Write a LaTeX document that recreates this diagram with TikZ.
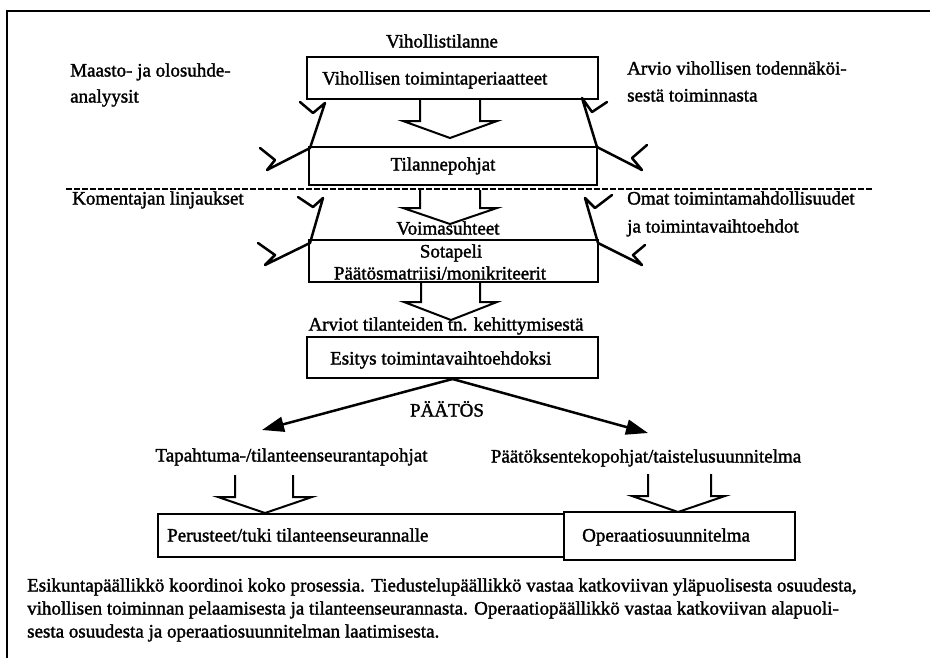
\documentclass[tikz,border=0pt]{standalone}
\usepackage{fontspec}
\setmainfont{Liberation Serif}
\newfontfamily\heavyserif{Liberation Serif}[FakeBold=1.6]
\usetikzlibrary{arrows.meta}
\newcommand\openblockarrow[8]{%
  \draw[arrowline] (#1,#3) -- (#1,#4) -- (#5,#4) -- (#7,#8) -- (#6,#4) -- (#2,#4) -- (#2,#3);}
\begin{document}
\begin{tikzpicture}[x=1pt,y=-1pt,
  txt/.style={font=\heavyserif\fontsize{19}{22}\selectfont, inner sep=0pt, text height=13pt, text depth=4pt},
  boxnode/.style={draw, line width=2pt, inner sep=0pt},
  arrowline/.style={line width=2pt, line join=miter},
  zigzag/.style={line width=2.5pt, line join=round, line cap=round},
  decision/.style={line width=2.5pt, -{Triangle[length=22pt,width=15pt]}}]
\useasboundingbox (0,0) rectangle (930,657);
% frame (clipped on right and bottom in the reference)
\draw[line width=2pt] (7,665) -- (7,11) -- (935,11);
% boxes
\node[boxnode, minimum width=291pt, minimum height=42pt] (vtp) at (452.5,78) {};
\node[boxnode, minimum width=288pt, minimum height=38pt] (tp) at (453,166) {};
\node[boxnode, minimum width=289pt, minimum height=42pt] (sp) at (453.5,261) {};
\node[boxnode, minimum width=291pt, minimum height=41pt] (esitys) at (452.5,357.5) {};
\node[boxnode, minimum width=406pt, minimum height=43pt] (perus) at (361,535.5) {};
\node[boxnode, minimum width=231pt, minimum height=48pt] (oper) at (679.5,536) {};
% dashed separator
\coordinate (dl) at (66,189);
\coordinate (dr) at (873,189);
\draw[line width=1.6pt, dash pattern=on 6pt off 2pt] (dl) -- (dr);
% texts
\node[txt] (vt) at (442,43) {Vihollistilanne};
\node[txt, anchor=west] (vtpt) at (322,80) {Vihollisen toimintaperiaatteet};
\node[txt] (tpt) at (443,166) {Tilannepohjat};
\node[txt] (vs) at (448,230) {Voimasuhteet};
\node[txt] (spt) at (451,253) {Sotapeli};
\node[txt] (pm) at (440,275) {Päätösmatriisi/monikriteerit};
\node[txt] (arv) at (446,326) {Arviot tilanteiden tn. kehittymisestä};
\node[txt, anchor=west] (est) at (330,360) {Esitys toimintavaihtoehdoksi};
\node[txt] (paatos) at (447,412) {PÄÄTÖS};
\node[txt] (tap) at (291.5,457) {Tapahtuma-/tilanteenseurantapohjat};
\node[txt] (ptk) at (646,458) {Päätöksentekopohjat/taistelusuunnitelma};
\node[txt, anchor=west] (pert) at (167,537) {Perusteet/tuki tilanteenseurannalle};
\node[txt, anchor=west] (opt) at (582,537) {Operaatiosuunnitelma};
\node[txt, anchor=west] (m1) at (70,72) {Maasto- ja olosuhde-};
\node[txt, anchor=west] (m2) at (70,98) {analyysit};
\node[txt, anchor=west] (k1) at (72,200) {Komentajan linjaukset};
\node[txt, anchor=west] (a1) at (627,70) {Arvio vihollisen todennäköi-};
\node[txt, anchor=west] (a2) at (627,97) {sestä toiminnasta};
\node[txt, anchor=west] (o1) at (627,200) {Omat toimintamahdollisuudet};
\node[txt, anchor=west] (o2) at (627,228) {ja toimintavaihtoehdot};
\node[txt, anchor=west] (p1) at (27,587) {Esikuntapäällikkö koordinoi koko prosessia. Tiedustelupäällikkö vastaa katkoviivan yläpuolisesta osuudesta,};
\node[txt, anchor=west] (p2) at (27,610) {vihollisen toiminnan pelaamisesta ja tilanteenseurannasta. Operaatiopäällikkö vastaa katkoviivan alapuoli-};
\node[txt, anchor=west] (p3) at (27,633) {sesta osuudesta ja operaatiosuunnitelman laatimisesta.};
% hollow block arrows
\openblockarrow{420}{480}{100}{121}{403}{497}{450}{138}
\openblockarrow{420}{480}{190}{208}{403}{497}{450}{224}
\openblockarrow{421}{480}{283}{302}{404}{497}{451}{320}
\openblockarrow{235}{293}{475}{497}{218}{312}{265}{513}
\openblockarrow{648}{711}{474}{496}{632}{725}{678}{512}
% side zigzag arrows
\draw[zigzag] (300,102) -- (313,113) -- (325,103) -- (310,148) -- (267,170) -- (275,160) -- (260,148);
\draw[zigzag] (607,102) -- (592,112) -- (582,98) -- (597,147) -- (642,170) -- (632,158) -- (647,145);
\draw[zigzag] (298,197) -- (313,207) -- (323,198) -- (310,243) -- (265,265) -- (275,255) -- (258,243);
\draw[zigzag] (612,195) -- (595,208) -- (585,198) -- (598,243) -- (642,265) -- (633,255) -- (645,245);
% decision arrows
\coordinate (tl) at (262,430);
\coordinate (tr) at (648,433);
\draw[decision] (esitys.south) -- (tl);
\draw[decision] (esitys.south) -- (tr);
\end{tikzpicture}
\end{document}
